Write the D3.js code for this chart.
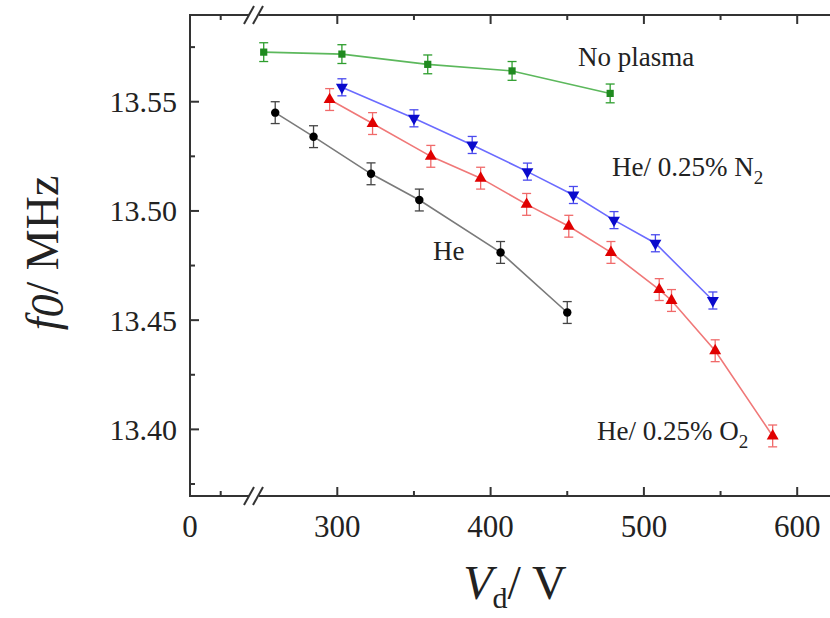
<!DOCTYPE html>
<html><head><meta charset="utf-8">
<script src="https://cdn.jsdelivr.net/npm/d3@7"></script>
<style>body{margin:0;background:#fff}svg{display:block}</style>
</head><body><svg id="c" width="830" height="618"></svg>
<script>
// ---- data ----
const heV = [259.5, 284.5, 322, 353.5, 406.5, 450];
const heF = [13.545, 13.534, 13.517, 13.505, 13.481, 13.4535];
const heErr = 0.005;
const noPlasmaV = [252, 303, 359, 414, 478];
const noPlasmaF = [13.5727, 13.5718, 13.5671, 13.5641, 13.5538];
const noPlasmaErr = 0.0043;
const n2V = [303, 350, 388, 424, 454, 480.5, 507.5, 545];
const n2F = [13.5566, 13.5424, 13.5302, 13.518, 13.5073, 13.4958, 13.4852, 13.459];
const n2Err = 0.0039;
const o2V = [295, 323, 361, 393.5, 423.5, 451, 478.5, 510, 518, 546.5, 584];
const o2F = [13.551, 13.540, 13.525, 13.515, 13.503, 13.493, 13.481, 13.464, 13.459, 13.436, 13.397];
const o2Err = 0.005;
const xMajorTicks = [0, 300, 400, 500, 600];
const xMinorTicks = [50, 350, 450, 550, 650];
const yMajorTicks = [13.40, 13.45, 13.50, 13.55];
const yMinorTicks = [13.375, 13.425, 13.475, 13.525, 13.575];

// ---- layout ----
const FONT = "'Liberation Serif', 'Times New Roman', Times, serif";
const L = 190, T = 15, B = 496, R = 835;
const svg = d3.select("#c");
const x = d3.scaleLinear().domain([0, 100, 250, 700]).range([190, 251.4, 260.65, 950.5]);
const y = d3.scaleLinear().domain([13.3695, 13.5897]).range([B, T]);
const txt = (sel) => sel.append("text").attr("font-family", FONT).attr("fill", "#222");

const series = [
  {V: noPlasmaV, F: noPlasmaF, e: noPlasmaErr, line: "#5cb85c", err: "#2e9e2e", fill: "#1f8a1f", m: "square"},
  {V: n2V, F: n2F, e: n2Err, line: "#6b6bff", err: "#4a4aee", fill: "#0a0acc", m: "down"},
  {V: o2V, F: o2F, e: o2Err, line: "#f07878", err: "#f06a6a", fill: "#e00000", m: "up"},
  {V: heV, F: heF, e: heErr, line: "#7a7a7a", err: "#444", fill: "#000", m: "circle"}
];

const g = svg.append("g");
series.forEach(s => {
  const pts = s.V.map((v, i) => [v, s.F[i]]);
  g.append("path").attr("d", d3.line().x(d => x(d[0])).y(d => y(d[1]))(pts))
    .attr("fill", "none").attr("stroke", s.line).attr("stroke-width", 1.6);
  pts.forEach(d => {
    const cx = x(d[0]), y1 = y(d[1] + s.e), y2 = y(d[1] - s.e);
    g.append("line").attr("x1", cx).attr("x2", cx).attr("y1", y1).attr("y2", y2).attr("stroke", s.err).attr("stroke-width", 1.3);
    [y1, y2].forEach(yy => g.append("line").attr("x1", cx - 4.5).attr("x2", cx + 4.5).attr("y1", yy).attr("y2", yy).attr("stroke", s.err).attr("stroke-width", 1.3));
  });
  const sym = {square: d3.symbolSquare, down: d3.symbolTriangle, up: d3.symbolTriangle, circle: d3.symbolCircle}[s.m];
  const size = {square: 52, down: 62, up: 62, circle: 56}[s.m];
  g.selectAll(null).data(pts).enter().append("path")
    .attr("d", d3.symbol().type(sym).size(size))
    .attr("transform", d => `translate(${x(d[0])},${y(d[1])})` + (s.m === "down" ? " rotate(180)" : ""))
    .attr("fill", s.fill);
});

// ---- axes frame ----
const ax = svg.append("g").attr("stroke", "#333").attr("stroke-width", 2).attr("fill", "none");
ax.append("line").attr("x1", L).attr("x2", L).attr("y1", T - 1).attr("y2", B + 1);
ax.append("line").attr("x1", L - 1).attr("x2", R).attr("y1", B).attr("y2", B);
ax.append("line").attr("x1", L - 1).attr("x2", R).attr("y1", T).attr("y2", T);
xMajorTicks.forEach(v => {
  ax.append("line").attr("x1", x(v)).attr("x2", x(v)).attr("y1", B).attr("y2", B - 9);
  ax.append("line").attr("x1", x(v)).attr("x2", x(v)).attr("y1", T).attr("y2", T + 9);
});
xMinorTicks.forEach(v => {
  ax.append("line").attr("x1", x(v)).attr("x2", x(v)).attr("y1", B).attr("y2", B - 5);
  ax.append("line").attr("x1", x(v)).attr("x2", x(v)).attr("y1", T).attr("y2", T + 5);
});
yMajorTicks.forEach(v => ax.append("line").attr("x1", L).attr("x2", L + 9).attr("y1", y(v)).attr("y2", y(v)));
yMinorTicks.forEach(v => ax.append("line").attr("x1", L).attr("x2", L + 5).attr("y1", y(v)).attr("y2", y(v)));

// axis breaks
[T, B].forEach(yy => {
  svg.append("rect").attr("x", 249).attr("y", yy - 3).attr("width", 10).attr("height", 6).attr("fill", "#fff");
  [249, 258].forEach(bx => svg.append("line").attr("x1", bx - 5).attr("x2", bx + 5).attr("y1", yy + 9).attr("y2", yy - 9)
    .attr("stroke", "#333").attr("stroke-width", 2));
});

// tick labels
xMajorTicks.forEach(v => txt(svg).attr("x", x(v)).attr("y", 537).attr("text-anchor", "middle")
  .attr("font-size", 31).text(v));
yMajorTicks.forEach(v => txt(svg).attr("x", 177).attr("y", y(v) + 10.5).attr("text-anchor", "end")
  .attr("font-size", 30).text(v.toFixed(2)));

// axis titles
const xt = txt(svg).attr("x", 515).attr("y", 599).attr("text-anchor", "middle").attr("font-size", 48);
xt.append("tspan").attr("font-style", "italic").text("V");
xt.append("tspan").attr("font-size", 30).attr("dy", 9).text("d");
xt.append("tspan").attr("dy", -9).text("/ V");

const yt = txt(svg).attr("transform", "translate(58,253) rotate(-90)").attr("text-anchor", "middle").attr("font-size", 46);
yt.append("tspan").attr("font-style", "italic").text("f");
yt.append("tspan").attr("font-style", "italic").attr("dy", 5).text("0");
yt.append("tspan").attr("dy", -5).text("/ MHz");

// series labels
txt(svg).attr("x", 578).attr("y", 66).attr("font-size", 27).text("No plasma");
const n2l = txt(svg).attr("x", 612).attr("y", 176).attr("font-size", 27);
n2l.append("tspan").text("He/ 0.25% N");
n2l.append("tspan").attr("font-size", 19).attr("dy", 8).text("2");
txt(svg).attr("x", 433).attr("y", 260).attr("font-size", 27).text("He");
const o2l = txt(svg).attr("x", 597).attr("y", 440).attr("font-size", 27);
o2l.append("tspan").text("He/ 0.25% O");
o2l.append("tspan").attr("font-size", 19).attr("dy", 8).text("2");
</script></body></html>
